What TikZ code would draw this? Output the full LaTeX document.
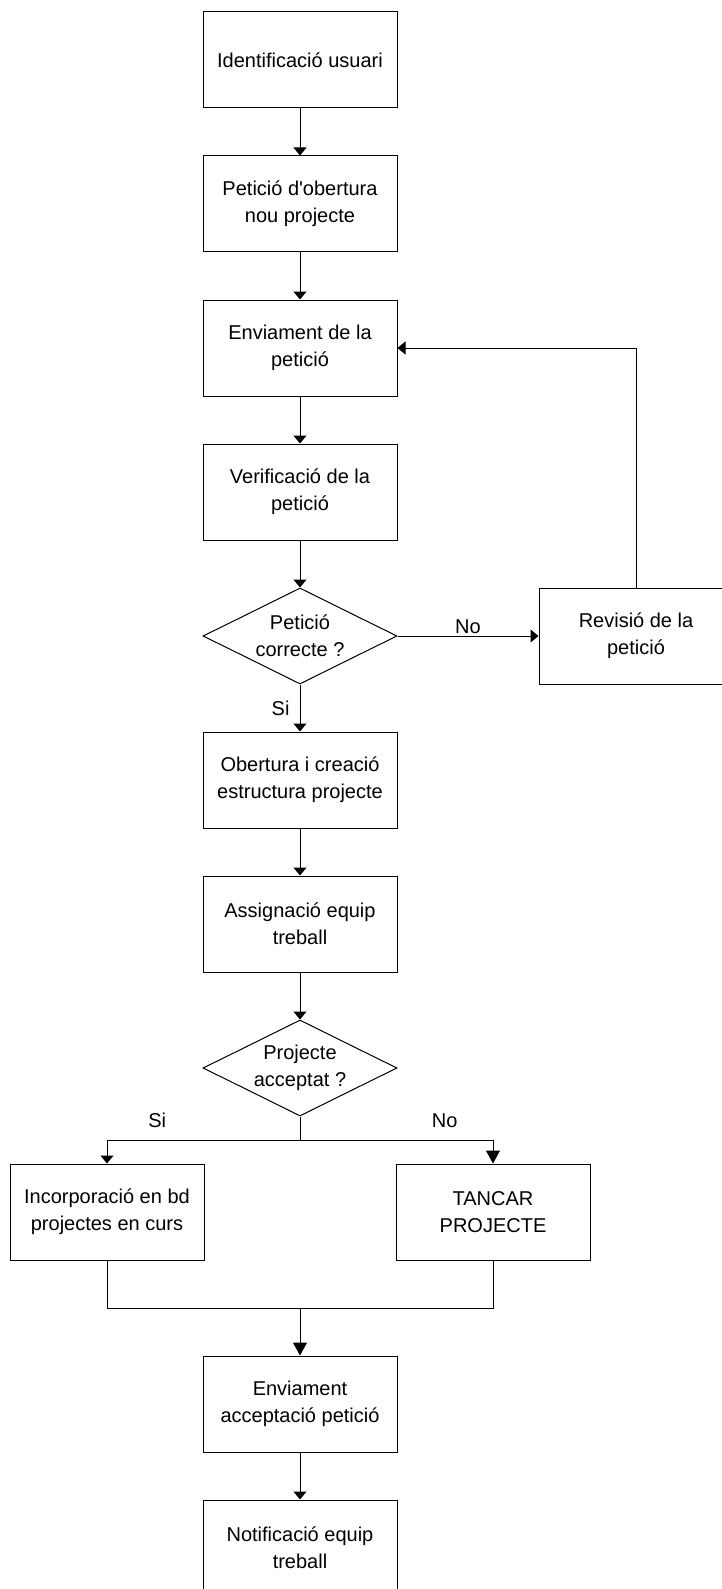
\documentclass[tikz,border=0pt]{standalone}
\usepackage{fontspec}
\setmainfont{Liberation Sans}[Ligatures=TeXOff]
\usetikzlibrary{shapes.geometric,arrows.meta}
\tikzset{
  txt/.style={font=\fontsize{10}{13.5}\selectfont},
  box/.style={txt, draw, rectangle, minimum width=97pt, minimum height=48pt, inner sep=0pt, align=center},
  decision/.style={txt, draw, diamond, shape aspect=2, minimum width=97pt, minimum height=48pt, inner sep=0pt, align=center},
  flow/.style={-{Triangle[width=6.5pt,length=4pt]}},
  flowbig/.style={-{Triangle[width=7pt,length=6.5pt]}},
  lbl/.style={txt, inner sep=1pt}
}
\begin{document}
\begin{tikzpicture}[x=0.5pt,y=-0.5pt,line width=0.5pt]
\useasboundingbox (0,0) rectangle (722,1589);
\clip (0,0) rectangle (722,1589);
% main column
\node[box] (ident) at (300,60) {Identificació usuari};
\node[box] (obert) at (300,204) {Petició d'obertura\\nou projecte};
\node[box] (envia) at (300,348) {Enviament de la\\petició};
\node[box] (verif) at (300,492) {Verificació de la\\petició};
\node[decision] (correct) at (300,636) {Petició\\correcte ?};
\node[box] (revis) at (636,636) {Revisió de la\\petició};
\node[box] (creac) at (300,780) {Obertura i creació\\estructura projecte};
\node[box] (assig) at (300,924) {Assignació equip\\treball};
\node[decision] (accept) at (300,1068) {Projecte\\acceptat ?};
\node[box] (incorp) at (107,1212) {Incorporació en bd\\projectes en curs};
\node[box] (tancar) at (493,1212) {TANCAR\\PROJECTE};
\node[box] (envacc) at (300,1404) {Enviament\\acceptació petició};
\node[box] (notif) at (300,1548) {Notificació equip\\treball};
\coordinate (split) at (300,1140);
\coordinate (join) at (300,1308);
% connectors
\draw[flow] (ident) -- (obert);
\draw[flow] (obert) -- (envia);
\draw[flow] (envia) -- (verif);
\draw[flow] (verif) -- (correct);
\draw[flow] (correct.east) -- (revis.west) node[lbl, midway, above] {No};
\draw[flow] (revis.north) |- (envia.east);
\draw[flow] (correct.south) -- (creac.north) node[lbl, midway, left=4pt] {Si};
\draw[flow] (creac) -- (assig);
\draw[flow] (assig) -- (accept);
\draw (accept.south) -- (split);
\draw[flow] (split) -| (incorp.north) node[lbl, pos=0.37, above=5pt] {Si};
\draw[flowbig] (split) -| (tancar.north) node[lbl, pos=0.375, above=5pt] {No};
\draw (incorp.south) |- (join);
\draw (tancar.south) |- (join);
\draw[flowbig] (join) -- (envacc);
\draw[flow] (envacc) -- (notif);
\end{tikzpicture}
\end{document}
